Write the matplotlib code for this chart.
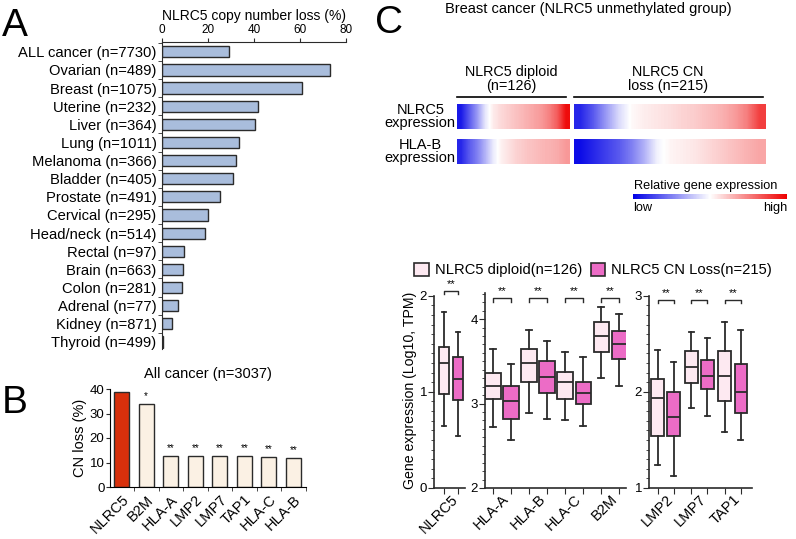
import numpy as np
import matplotlib
matplotlib.use("Agg")
import matplotlib.pyplot as plt
from matplotlib.ticker import MultipleLocator, FixedLocator, FixedFormatter
from matplotlib.patches import Patch
from matplotlib.colors import LinearSegmentedColormap, Normalize
from matplotlib.cm import ScalarMappable

plt.rcParams['font.family'] = ['Liberation Sans', 'DejaVu Sans']

# ---- panel A: NLRC5 copy number loss per cancer type
cancers = ["ALL cancer (n=7730)", "Ovarian (n=489)", "Breast (n=1075)", "Uterine (n=232)",
           "Liver (n=364)", "Lung (n=1011)", "Melanoma (n=366)", "Bladder (n=405)",
           "Prostate (n=491)", "Cervical (n=295)", "Head/neck (n=514)", "Rectal (n=97)",
           "Brain (n=663)", "Colon (n=281)", "Adrenal (n=77)", "Kidney (n=871)", "Thyroid (n=499)"]
cn_loss = [29.0, 73.0, 60.7, 41.6, 40.6, 33.3, 32.3, 30.7, 25.3, 20.0, 18.5, 9.6, 9.0, 8.6, 7.1, 4.5, 0.3]

# ---- panel B: CN loss of MHC class I genes, all cancer
genes_b = ["NLRC5", "B2M", "HLA-A", "LMP2", "LMP7", "TAP1", "HLA-C", "HLA-B"]
loss_b = [38.9, 33.8, 12.6, 12.5, 12.5, 12.5, 12.3, 12.0]
stars_b = ["", "*", "**", "**", "**", "**", "**", "**"]

# ---- panel C heatmap: relative expression, sorted samples (read at sample points)
n_diploid = 126
n_loss = 215
nlrc5_diploid = [-0.9, -0.65, -0.4, -0.1, 0.08, 0.15, 0.2, 0.25, 0.3, 0.35, 0.4, 0.5, 0.65, 0.95]
hlab_diploid = [-0.85, -0.65, -0.5, -0.3, -0.08, 0.06, 0.12, 0.18, 0.22, 0.25, 0.28, 0.3, 0.33, 0.4]
nlrc5_loss = [-0.85, -0.65, -0.4, -0.15, 0.02, 0.07, 0.1, 0.13, 0.17, 0.2, 0.25, 0.3, 0.38, 0.5, 0.75]
hlab_loss = [-0.95, -0.85, -0.75, -0.65, -0.5, -0.3, -0.05, 0.04, 0.07, 0.1, 0.15, 0.2, 0.25, 0.3, 0.35]

# ---- panel C boxplots: (whislo, q1, med, q3, whishi)
box_groups = [["NLRC5"], ["HLA-A", "HLA-B", "HLA-C", "B2M"], ["LMP2", "LMP7", "TAP1"]]
box_diploid = {
    "NLRC5": (0.64, 0.98, 1.30, 1.47, 1.83),
    "HLA-A": (2.72, 3.05, 3.21, 3.36, 3.65),
    "HLA-B": (2.89, 3.25, 3.48, 3.65, 3.87),
    "HLA-C": (2.80, 3.05, 3.25, 3.38, 3.61),
    "B2M": (3.30, 3.61, 3.80, 3.97, 4.14),
    "LMP2": (1.24, 1.54, 1.94, 2.13, 2.44),
    "LMP7": (1.83, 2.09, 2.26, 2.43, 2.62),
    "TAP1": (1.58, 1.90, 2.17, 2.43, 2.73),
}
box_loss = {
    "NLRC5": (0.54, 0.92, 1.13, 1.36, 1.62),
    "HLA-A": (2.57, 2.82, 3.03, 3.21, 3.47),
    "HLA-B": (2.82, 3.12, 3.32, 3.50, 3.74),
    "HLA-C": (2.74, 2.99, 3.12, 3.26, 3.55),
    "B2M": (3.21, 3.53, 3.70, 3.86, 4.06),
    "LMP2": (1.13, 1.54, 1.74, 2.00, 2.31),
    "LMP7": (1.75, 2.03, 2.17, 2.33, 2.56),
    "TAP1": (1.50, 1.78, 2.00, 2.29, 2.64),
}

W, H = 796, 539
fig = plt.figure(figsize=(W / 100, H / 100), dpi=100)

def px_axes(x0, y0, x1, y1):  # pixel box -> figure axes
    return fig.add_axes([x0 / W, 1 - y1 / H, (x1 - x0) / W, (y1 - y0) / H])

dark = "#2b2b2b"

# ================= A
axA = px_axes(162, 42, 346, 349)
yy = np.arange(len(cancers))
axA.barh(yy, cn_loss, height=0.62, color="#A9BDDC", edgecolor=dark, linewidth=1.0)
axA.set_ylim(len(cancers) - 0.61, -0.54)
axA.set_xlim(0, 80)
axA.xaxis.tick_top()
axA.xaxis.set_label_position("top")
axA.set_xticks([0, 20, 40, 60, 80])
axA.tick_params(axis="x", labelsize=8.5, length=3, pad=1, color=dark)
axA.set_xlabel("NLRC5 copy number loss (%)", fontsize=10, labelpad=3)
axA.set_yticks(yy)
axA.set_yticklabels(cancers, fontsize=10.6)
axA.tick_params(axis="y", length=0, pad=4)
axA.yaxis.set_minor_locator(FixedLocator(np.arange(-0.5, len(cancers), 1.0)))
axA.tick_params(axis="y", which="minor", length=3, color=dark)
for s in ["right", "bottom"]:
    axA.spines[s].set_visible(False)
for s in ["left", "top"]:
    axA.spines[s].set_color(dark)
fig.text(2 / W, 1 - 36 / H, "A", fontsize=28, ha="left", va="baseline")

# ================= B
axB = px_axes(110, 389, 306, 487)
xb = np.arange(len(genes_b))
colors_b = ["#D8300C"] + ["#FBF1E4"] * (len(genes_b) - 1)
axB.bar(xb, loss_b, width=0.62, color=colors_b, edgecolor=dark, linewidth=1.0)
for x, v, s in zip(xb, loss_b, stars_b):
    if s:
        axB.text(x, v + 1.2, s, ha="center", va="bottom", fontsize=7)
axB.set_xlim(-0.48, len(genes_b) - 0.48)
axB.set_ylim(0, 40)
axB.set_yticks([0, 10, 20, 30, 40])
axB.tick_params(axis="y", labelsize=9.5, length=3, pad=1, color=dark)
axB.set_ylabel("CN loss (%)", fontsize=10.5, labelpad=2)
axB.set_xticks(xb)
axB.set_xticklabels(genes_b, rotation=45, ha="right", rotation_mode="anchor", fontsize=10.5)
axB.tick_params(axis="x", length=0, pad=4)
axB.xaxis.set_minor_locator(FixedLocator(np.arange(-0.5, len(genes_b), 1.0)))
axB.tick_params(axis="x", which="minor", length=3, color=dark)
for s in ["right", "top"]:
    axB.spines[s].set_visible(False)
axB.set_title("All cancer (n=3037)", fontsize=10.5, pad=8)
fig.text(2 / W, 1 - 413 / H, "B", fontsize=28, ha="left", va="baseline")

# ================= C heatmap
fig.text(375 / W, 1 - 33 / H, "C", fontsize=28, ha="left", va="baseline")
fig.text(588 / W, 1 - 9 / H, "Breast cancer (NLRC5 unmethylated group)", fontsize=10.5,
         ha="center", va="center")
cmap = LinearSegmentedColormap.from_list("bwr2", ["#0000E6", "#ffffff", "#EE0000"])
gap = 5.3
axH = px_axes(456.7, 104, 765.7, 164)
blocks = [(0, n_diploid, nlrc5_diploid, hlab_diploid, "NLRC5 diploid\n(n=126)"),
          (n_diploid + gap, n_diploid + gap + n_loss, nlrc5_loss, hlab_loss, "NLRC5 CN\nloss (n=215)")]
for x0, x1, r1, r2, lab in blocks:
    axH.imshow(np.array([r1]), cmap=cmap, vmin=-1, vmax=1, aspect="auto",
               interpolation="bilinear", extent=(x0, x1, 1, 0))
    axH.imshow(np.array([r2]), cmap=cmap, vmin=-1, vmax=1, aspect="auto",
               interpolation="bilinear", extent=(x0, x1, 2.4, 1.4))
    axH.plot([x0 + 0.5, x1 - 3], [-0.28, -0.28], color="black", lw=1.2, clip_on=False)
    axH.text((x0 + x1) / 2 - 2, -0.45, lab, ha="center", va="bottom", fontsize=10.4,
             linespacing=1.0)
axH.set_xlim(0, n_diploid + gap + n_loss)
axH.set_ylim(2.4, 0)
axH.axis("off")
axH.text(-1, 0.5, "NLRC5\nexpression", ha="right", va="center", fontsize=10.5,
         multialignment="center", linespacing=0.95)
axH.text(-1, 1.9, "HLA-B\nexpression", ha="right", va="center", fontsize=10.5,
         multialignment="center", linespacing=0.95)

cax = px_axes(633, 193.5, 787, 198.5)
cb = fig.colorbar(ScalarMappable(norm=Normalize(-1, 1), cmap=cmap), cax=cax,
                  orientation="horizontal")
cb.set_ticks([])
cb.outline.set_visible(False)
fig.text(706 / W, 1 - 186 / H, "Relative gene expression", fontsize=9.2, ha="center", va="center")
fig.text(633 / W, 1 - 208 / H, "low", fontsize=9.2, ha="left", va="center")
fig.text(787 / W, 1 - 208 / H, "high", fontsize=9.2, ha="right", va="center")

# ================= C boxplots
c_dip = "#FDE9F1"
c_loss = "#EC6CC6"
box_specs = [
    # pixel box, ylim, yticks, half offset, box width, xlim, bracket y
    ((434, 295.7, 465, 488), (0, 2), [0, 1, 2], 0.25, 0.36, (-0.61, 0.49), 2.05),
    ((485, 293, 626, 488), (2, 4.31), [2, 3, 4], 0.25, 0.42, (-0.47, 3.44), 4.25),
    ((649, 295.7, 752, 488), (1, 3), [1, 2, 3], 0.24, 0.38, (-0.5, 2.57), 2.955),
]
for genes, (pbox, ylim, yt, off, bw, xlim, yb) in zip(box_groups, box_specs):
    ax = px_axes(*pbox)
    stats, pos, fills = [], [], []
    for i, g in enumerate(genes):
        for st, dx, fc in ((box_diploid[g], -off, c_dip), (box_loss[g], off, c_loss)):
            lo, q1, med, q3, hi = st
            stats.append(dict(whislo=lo, q1=q1, med=med, q3=q3, whishi=hi, fliers=[]))
            pos.append(i + dx)
            fills.append(fc)
    bp = ax.bxp(stats, positions=pos, widths=bw, patch_artist=True, showfliers=False,
                capwidths=bw * 0.4,
                boxprops=dict(edgecolor=dark, linewidth=1.3),
                medianprops=dict(color=dark, linewidth=1.3),
                whiskerprops=dict(color=dark, linewidth=1.3),
                capprops=dict(color=dark, linewidth=1.3))
    for patch, fc in zip(bp["boxes"], fills):
        patch.set_facecolor(fc)
    for i in range(len(genes)):
        x0, x1 = i - off, i + off
        h = (ylim[1] - ylim[0]) * 0.018
        ax.plot([x0, x0, x1, x1], [yb - h, yb, yb, yb - h], color=dark, lw=1.0, clip_on=False)
        ax.text(i, yb + h * 0.6, "**", ha="center", va="bottom", fontsize=8, clip_on=False)
    ax.set_xlim(*xlim)
    ax.set_ylim(*ylim)
    ax.set_yticks(yt)
    ax.yaxis.set_minor_locator(MultipleLocator(0.1))
    ax.tick_params(axis="y", labelsize=9.5, length=4, pad=1, color=dark)
    ax.tick_params(axis="y", which="minor", length=2, color=dark)
    ax.set_xticks(pos)
    ax.set_xticklabels([])
    ax.tick_params(axis="x", length=4, color=dark)
    ax.xaxis.set_minor_locator(FixedLocator(range(len(genes))))
    ax.xaxis.set_minor_formatter(FixedFormatter(genes))
    ax.tick_params(axis="x", which="minor", length=0, pad=3, labelsize=10.5)
    for lbl in ax.get_xticklabels(minor=True):
        lbl.set_rotation(45)
        lbl.set_ha("right")
        lbl.set_rotation_mode("anchor")
    for s in ["right", "top"]:
        ax.spines[s].set_visible(False)
    for s in ["left", "bottom"]:
        ax.spines[s].set_color(dark)
        ax.spines[s].set_linewidth(1.2)

fig.text(410 / W, 1 - 390 / H, "Gene expression (Log10, TPM)", fontsize=10.2, rotation=90,
         ha="center", va="center")
handles = [Patch(facecolor=c_dip, edgecolor=dark, linewidth=1.2),
           Patch(facecolor=c_loss, edgecolor=dark, linewidth=1.2)]
fig.legend(handles, ["NLRC5 diploid(n=126)", "NLRC5 CN Loss(n=215)"], ncol=2,
           loc="center", bbox_to_anchor=(593 / W, 1 - 270 / H), frameon=False,
           fontsize=10.6, handlelength=1.0, handleheight=1.0, handletextpad=0.4,
           columnspacing=0.6, borderaxespad=0)

fig.savefig("out.png", dpi=100)
